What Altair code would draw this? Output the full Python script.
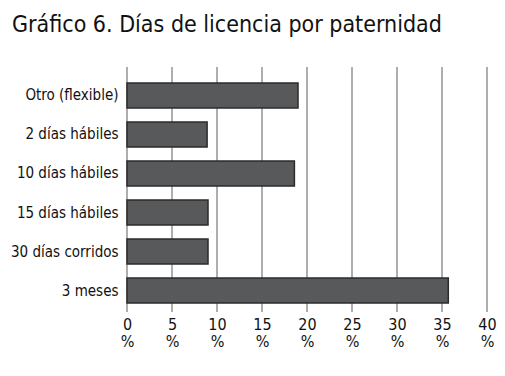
import altair as alt
import pandas as pd

categories = ["Otro (flexible)", "2 días hábiles", "10 días hábiles",
              "15 días hábiles", "30 días corridos", "3 meses"]
values = [19.0, 8.9, 18.6, 9.0, 9.0, 35.7]
tick_values = [0, 5, 10, 15, 20, 25, 30, 35, 40]
title_text = "Gráfico 6. Días de licencia por paternidad"

FONT = "DejaVu Sans Condensed"
W, H = 360, 220

df = pd.DataFrame({"cat": categories, "val": values})
grid_df = pd.DataFrame({"t": tick_values})

xscale = alt.Scale(domain=[0, 40], nice=False, zero=True)
xaxis = alt.Axis(values=tick_values, labelExpr="[datum.label, '%']",
                 grid=False, ticks=False, domain=False,
                 labelOverlap=False, labelBound=False, labelFlush=False,
                 labelFont=FONT, labelFontSize=16, labelColor="#111",
                 labelLineHeight=17, labelPadding=13, title=None)

grid = alt.Chart(grid_df).mark_rule(color="#9a9a9a", strokeWidth=1.6).encode(
    x=alt.X("t:Q", scale=xscale, axis=xaxis),
    y=alt.value(-16),
    y2=alt.value(H + 9),
)

bars = alt.Chart(df).mark_bar(
    color="#58595b", stroke="#2b2b2b", strokeWidth=1.5
).encode(
    x=alt.X("val:Q", scale=xscale, axis=xaxis),
    y=alt.Y("cat:N", sort=categories,
            scale=alt.Scale(paddingInner=0.36, paddingOuter=0),
            axis=alt.Axis(ticks=False, domain=False, grid=False,
                          labelFont=FONT, labelFontSize=15, labelColor="#111",
                          labelPadding=9, title=None)),
)

chart = alt.layer(grid, bars).properties(
    width=W, height=H,
    title=alt.TitleParams(title_text, font=FONT, fontSize=23, fontWeight="normal",
                          color="#111", anchor="start", frame="group",
                          dx=-115, offset=11, baseline="alphabetic"),
    padding={"left": 127, "top": 83, "right": 18, "bottom": 73},
    autosize=alt.AutoSizeParams(type="none"),
).configure_view(stroke=None)

chart.save("out.html", embed_options={"renderer": "svg", "actions": False})
